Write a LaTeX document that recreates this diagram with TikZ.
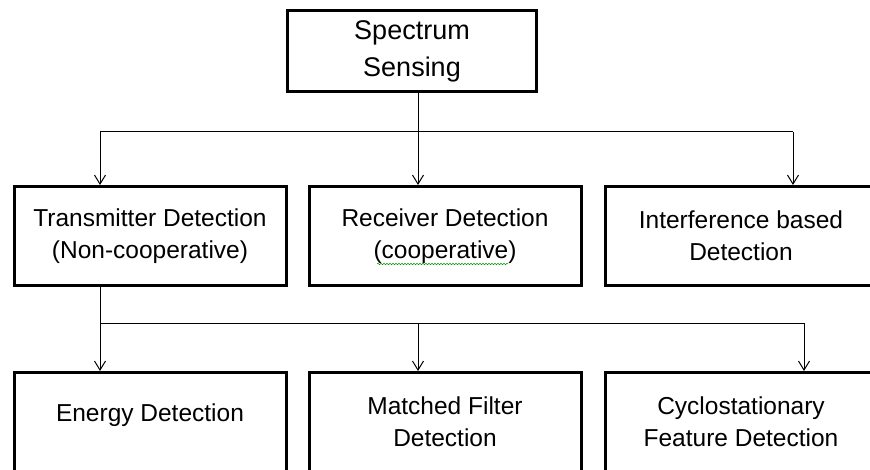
\documentclass[tikz,border=0pt]{standalone}
\usepackage{fontspec}
\setmainfont{Liberation Sans}
\usetikzlibrary{arrows.meta,decorations.pathmorphing}
\begin{document}
\begin{tikzpicture}[x=1pt,y=-1pt,
  box/.style={draw, line width=3pt, inner sep=0pt, align=center,
    minimum width=272pt, minimum height=99pt,
    font=\fontsize{24.5}{32}\selectfont},
  topbox/.style={box, minimum width=249pt, minimum height=81pt,
    font=\fontsize{27}{37}\selectfont},
  conn/.style={draw, line width=1pt},
  arr/.style={conn, -{Straight Barb[length=9pt,width=11pt,line width=1pt]}}]
\useasboundingbox[fill=white] (0,0) rectangle (870,470);

\node[topbox] (ss) at (412,51) {Spectrum\\Sensing};

\node[box] (tx) at (150,236) {Transmitter Detection\\(Non-cooperative)};
\node[box] (rx) at (445,236) {Receiver Detection\\(cooperative)};
\node[box] (ib) at (741,236) {Interference based\\Detection};

\node[box, text height=17.5pt, text depth=19.5pt] (en) at (150,422) {Energy Detection};
\node[box] (mf) at (445,422) {Matched Filter\\Detection};
\node[box] (cf) at (741,422) {Cyclostationary\\Feature Detection};

% upper branch
\coordinate (a1) at (100,132);
\coordinate (a2) at (418,132);
\coordinate (a3) at (793,132);
\draw[conn] (ss.south -| a2) -- (a2);
\draw[conn] (a1) -- (a3);
\draw[arr] (a1) -- (a1 |- tx.north);
\draw[arr] (a2) -- (a2 |- rx.north);
\draw[arr] (a3) -- (a3 |- ib.north);

% lower branch
\coordinate (b1) at (100,323);
\coordinate (b2) at (418,323);
\coordinate (b3) at (804,323);
\draw[conn] (tx.south -| b1) -- (b1);
\draw[conn] (b1) -- (b3);
\draw[arr] (b1) -- (b1 |- en.north);
\draw[arr] (b2) -- (b2 |- mf.north);
\draw[arr] (b3) -- (b3 |- cf.north);

% spell-check squiggle under "cooperative"
\coordinate (sq1) at (377,264);
\coordinate (sq2) at (508,264);
\draw[green!60!black, line width=0.5pt, decorate,
  decoration={snake, amplitude=0.7pt, segment length=3pt}] (sq1) -- (sq2);
\end{tikzpicture}
\end{document}
